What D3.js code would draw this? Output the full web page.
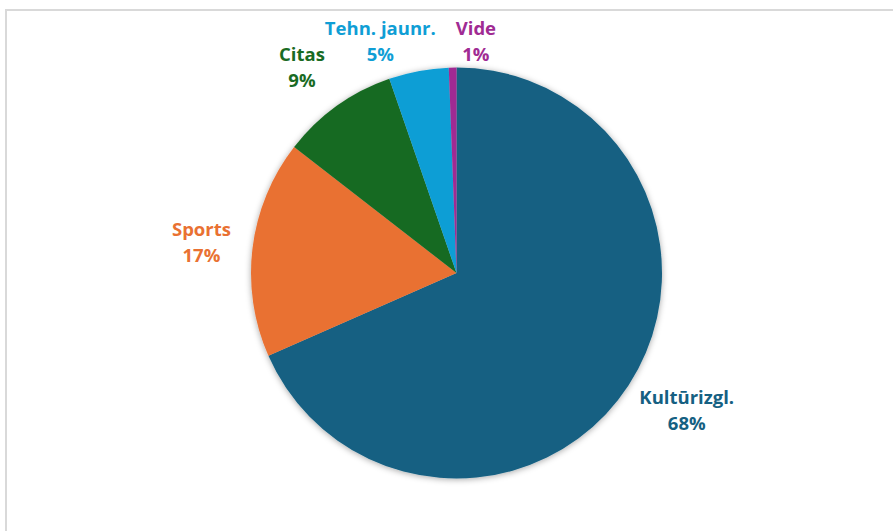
<!DOCTYPE html>
<head>
	<meta charset="utf-8">
	<title>Pie</title>
<style>
	body {
		margin:0;
		background:#ffffff;
		font-family: "Open Sans", Roboto, sans-serif;
	}
	svg { display:block; }
	.lbl { font-weight:bold; font-size:18.5px; }
</style>
</head>
<script src="https://d3js.org/d3.v7.min.js"></script>
<body>
<script>
	var width = 893;
	var height = 531;

	// data
	var categories = ["Kultūrizgl.", "Sports", "Citas", "Tehn. jaunr.", "Vide"];
	var values = [68.4, 17.1, 9.2, 4.7, 0.6];
	var colors = ["#156082", "#E97132", "#196B24", "#0F9ED5", "#A02B93"];

	var svg = d3.select("body").append("svg")
		.attr("width", width)
		.attr("height", height);

	// chart frame (only top and left edge visible)
	var frameTop = 10;
	svg.append("rect")
		.attr("x", 6).attr("y", frameTop)
		.attr("width", 1000).attr("height", 1000)
		.attr("fill", "none")
		.attr("stroke", "#d9d9d9")
		.attr("stroke-width", 2);

	var defs = svg.append("defs");
	var f = defs.append("filter").attr("id", "shadow")
		.attr("x", "-10%").attr("y", "-10%").attr("width", "120%").attr("height", "120%");
	f.append("feDropShadow")
		.attr("dx", 0).attr("dy", 1)
		.attr("stdDeviation", 3)
		.attr("flood-color", "#000")
		.attr("flood-opacity", 0.35);

	var cx = 456.5, cy = 273, r = 205.5;

	var data = categories.map(function(c, i) { return {name: c, value: values[i], color: colors[i]}; });

	var pie = d3.pie().sort(null).value(function(d) { return d.value; });
	var arc = d3.arc().innerRadius(0).outerRadius(r);
	var arcs = pie(data);

	var g = svg.append("g").attr("transform", "translate(" + cx + "," + cy + ")");

	g.append("g").attr("filter", "url(#shadow)")
		.selectAll("path")
		.data(arcs)
		.enter().append("path")
		.attr("d", arc)
		.attr("fill", function(d) { return d.data.color; });

	var total = d3.sum(values);
	var lineGap = 26, boxH = 50;

	var labels = g.append("g").selectAll("text")
		.data(arcs)
		.enter().append("text")
		.attr("class", "lbl")
		.attr("text-anchor", "middle")
		.attr("fill", function(d) { return d.data.color; });

	labels.append("tspan").attr("x", 0).attr("dy", 0).text(function(d) { return d.data.name; });
	labels.append("tspan").attr("x", 0).attr("dy", lineGap)
		.text(function(d) { return Math.round(d.value / total * 100) + "%"; });

	// place each label just outside its slice, pushed outward by its size
	var boxes = [];
	var minY = frameTop + 6 + boxH / 2 - cy;
	labels.each(function(d) {
		var w = this.getBBox().width;
		var a = (d.startAngle + d.endAngle) / 2;
		var s = Math.sin(a), c = Math.cos(a);
		var ax = (r + 22) * s, ay = -(r + 22) * c;
		boxes.push({node: this, w: w, x: ax + s * w / 2, y: Math.max(minY, ay - c * boxH / 2), top: c > 0.9});
	});

	// labels sitting above the pie: spread them apart
	var topBoxes = boxes.filter(function(b) { return b.top; }).sort(function(a, b) { return a.x - b.x; });
	for (var i = 1; i < topBoxes.length; i++) {
		var p = topBoxes[i - 1], q = topBoxes[i];
		var ov = (p.x + p.w / 2 + 20) - (q.x - q.w / 2);
		if (ov > 0) { p.x -= ov / 2; q.x += ov / 2; }
	}

	// other labels: move sideways off any top label they touch
	boxes.forEach(function(b) {
		if (b.top) return;
		topBoxes.forEach(function(t) {
			var yHit = Math.abs(b.y - t.y) < boxH;
			var xHit = Math.abs(b.x - t.x) < (b.w + t.w) / 2;
			if (yHit && xHit) {
				if (b.x < t.x) b.x = t.x - (b.w + t.w) / 2;
				else b.x = t.x + (b.w + t.w) / 2;
			}
		});
	});

	boxes.forEach(function(b) {
		d3.select(b.node)
			.attr("transform", "translate(" + b.x + "," + (b.y - 6.5) + ")");
	});
</script>
</body>
